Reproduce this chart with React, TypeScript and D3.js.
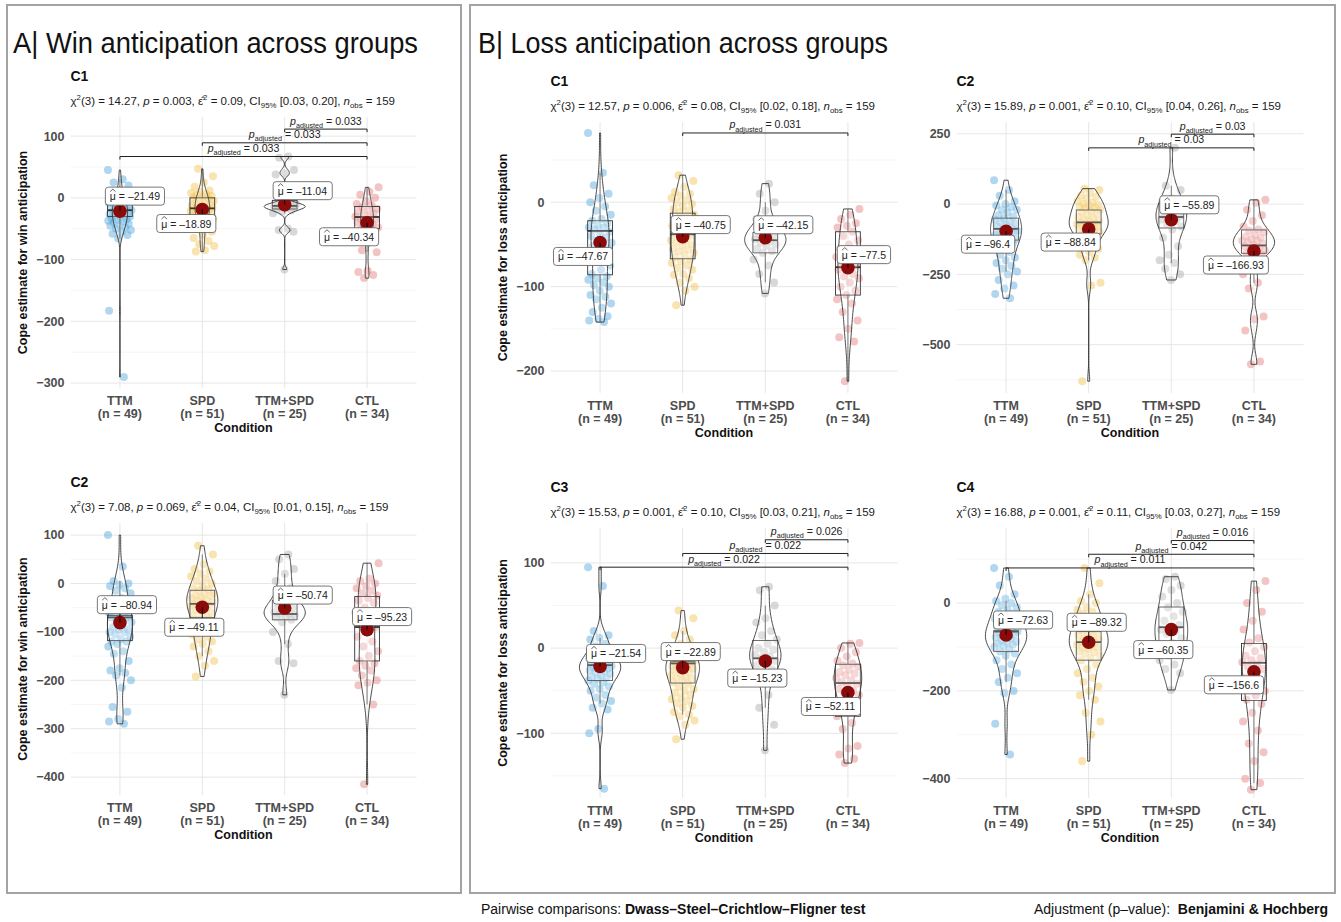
import * as React from "react";
import * as d3 from "d3";

// ---- shared categories ----
const groups = ["TTM", "SPD", "TTM+SPD", "CTL"];
const groupN = [49, 51, 25, 34];
const groupColors = ["#4fa6dc", "#f1c04c", "#a8a8a8", "#e47c7c"];

// ---- A | win anticipation, C1 ----
const winC1TTM = [45, 30, 25, 20, 12, 8, 5, 2, 0, -2, -3, -5, -6, -8, -10, -12, -14, -15, -16, -17, -18, -20, -21, -22, -24, -25, -26, -27, -28, -30, -32, -33, -35, -36, -37, -38, -40, -42, -44, -45, -48, -50, -52, -55, -58, -60, -66, -183, -290];
const winC1SPD = [47, 35, 25, 18, 12, 10, 8, 6, 5, 3, 2, 0, -1, -3, -5, -6, -8, -10, -11, -12, -14, -15, -16, -17, -18, -19, -20, -21, -22, -24, -25, -26, -28, -30, -32, -34, -36, -38, -40, -42, -45, -48, -50, -55, -60, -65, -70, -75, -78, -85, -87];
const winC1Combo = [67, 65, 45, 40, 38, -5, -8, -10, -11, -12, -12, -13, -14, -15, -15, -16, -17, -18, -20, -22, -25, -50, -52, -55, -116];
const winC1CTL = [17, 10, 5, 0, -5, -10, -12, -15, -18, -20, -22, -25, -28, -30, -32, -35, -35, -38, -40, -42, -45, -48, -50, -52, -55, -58, -60, -65, -85, -88, -118, -120, -125, -130];
const winC1Box = [[-30, -20, -3], [-38, -17, 0], [-18, -13, -4], [-50, -31, -14]];
const winC1Means = [-21.49, -18.89, -11.04, -40.34];
const winC1Stats = ["14.27", "0.003", "0.09", "0.03", "0.20"];
const winC1Pairs = [["TTM", "CTL", "0.033"], ["SPD", "CTL", "0.033"], ["TTM+SPD", "CTL", "0.033"]];

// ---- A | win anticipation, C2 ----
const winC2TTM = [100, 35, 5, 0, -2, -5, -10, -15, -20, -30, -40, -50, -55, -60, -60, -65, -68, -70, -70, -72, -75, -80, -85, -90, -95, -95, -100, -100, -105, -110, -115, -120, -120, -125, -130, -140, -145, -160, -175, -180, -185, -190, -200, -215, -255, -265, -280, -285, -290];
const winC2SPD = [78, 60, 40, 30, 25, 20, 15, 10, 5, 0, -5, -10, -12, -15, -20, -22, -25, -25, -28, -30, -35, -35, -38, -40, -42, -45, -45, -48, -50, -55, -60, -60, -65, -70, -75, -80, -85, -90, -95, -100, -105, -110, -115, -120, -125, -130, -140, -150, -160, -170, -192];
const winC2Combo = [60, 50, 30, 20, 5, -10, -20, -30, -40, -45, -50, -55, -60, -62, -63, -65, -68, -70, -75, -80, -100, -125, -160, -165, -230];
const winC2CTL = [42, 10, 5, 0, -5, -10, -15, -20, -25, -30, -35, -40, -50, -60, -70, -80, -90, -100, -110, -120, -130, -140, -150, -160, -165, -170, -175, -180, -190, -200, -205, -210, -250, -415];
const winC2Box = [[-118, -70, -66], [-70, -42, -14], [-75, -63, -35], [-160, -90, -27]];
const winC2Means = [-80.94, -49.11, -50.74, -95.23];
const winC2Stats = ["7.08", "0.069", "0.04", "0.01", "0.15"];
const winC2Pairs: string[][] = [];

// ---- B | loss anticipation, C1 ----
const lossC1TTM = [82, 35, 20, 10, 5, 0, -5, -10, -15, -20, -22, -25, -28, -30, -30, -32, -35, -38, -40, -42, -45, -48, -50, -52, -55, -58, -60, -65, -70, -75, -80, -85, -88, -90, -92, -95, -98, -100, -105, -110, -112, -115, -120, -125, -130, -135, -138, -140, -142];
const lossC1SPD = [32, 25, 18, 12, 10, 8, 5, 2, 0, -2, -5, -8, -10, -12, -15, -18, -20, -22, -25, -28, -30, -32, -35, -36, -38, -40, -42, -45, -46, -48, -50, -52, -55, -56, -58, -60, -62, -65, -68, -70, -72, -75, -78, -80, -85, -86, -90, -95, -100, -105, -122];
const lossC1Combo = [22, 10, 0, -10, -20, -25, -30, -32, -35, -38, -40, -42, -44, -46, -48, -50, -52, -55, -58, -60, -68, -75, -85, -95, -108];
const lossC1CTL = [-8, -15, -20, -25, -28, -30, -35, -40, -45, -50, -55, -60, -62, -65, -70, -72, -75, -78, -80, -85, -88, -90, -95, -100, -105, -110, -115, -120, -130, -140, -150, -160, -165, -212];
const lossC1Box = [[-86, -34, -22], [-67, -38, -13], [-60, -45, -36], [-110, -77, -35]];
const lossC1Means = [-47.67, -40.75, -42.15, -77.5];
const lossC1Stats = ["12.57", "0.006", "0.08", "0.02", "0.18"];
const lossC1Pairs = [["SPD", "CTL", "0.031"]];

// ---- B | loss anticipation, C2 ----
const lossC2TTM = [85, 50, 30, 10, 0, -5, -10, -20, -20, -30, -40, -45, -50, -55, -60, -65, -70, -75, -80, -85, -90, -95, -95, -100, -100, -105, -110, -115, -120, -125, -130, -135, -140, -150, -160, -170, -180, -190, -200, -210, -220, -230, -240, -250, -270, -290, -300, -320, -335];
const lossC2SPD = [55, 50, 40, 30, 25, 20, 10, 5, 0, -2, -5, -10, -12, -15, -20, -25, -30, -35, -40, -45, -50, -55, -60, -62, -65, -68, -70, -72, -75, -78, -80, -82, -85, -90, -95, -100, -105, -110, -115, -120, -130, -140, -150, -160, -170, -180, -190, -200, -280, -290, -630];
const lossC2Combo = [200, 65, 50, 20, 10, 0, -15, -25, -35, -40, -45, -50, -55, -60, -70, -80, -90, -120, -150, -180, -200, -210, -230, -250, -270];
const lossC2CTL = [15, 5, -20, -40, -60, -80, -90, -95, -100, -110, -115, -120, -125, -130, -130, -135, -140, -145, -150, -155, -160, -165, -170, -175, -180, -200, -250, -280, -300, -400, -410, -450, -560, -570];
const lossC2Box = [[-128, -88, -50], [-106, -65, -21], [-85, -46, 2], [-175, -147, -92]];
const lossC2Means = [-96.4, -88.84, -55.89, -166.93];
const lossC2Stats = ["15.89", "0.001", "0.10", "0.04", "0.26"];
const lossC2Pairs = [["SPD", "CTL", "0.03"], ["TTM+SPD", "CTL", "0.03"]];

// ---- B | loss anticipation, C3 ----
const lossC3TTM = [95, 73, 20, 15, 12, 10, 5, 2, 0, -2, -5, -8, -10, -12, -14, -15, -16, -17, -18, -19, -20, -21, -22, -23, -24, -25, -26, -27, -28, -30, -32, -34, -35, -36, -38, -40, -42, -45, -48, -50, -55, -58, -62, -65, -70, -72, -95, -100, -165];
const lossC3SPD = [44, 35, 20, 15, 10, 5, 2, 0, -2, -5, -8, -10, -12, -14, -15, -16, -18, -19, -20, -21, -22, -23, -24, -25, -26, -28, -30, -32, -34, -35, -36, -38, -40, -42, -45, -48, -50, -52, -55, -58, -60, -62, -65, -68, -70, -75, -78, -80, -85, -90, -107];
const lossC3Combo = [72, 68, 50, 35, 30, 20, 15, 10, 5, 0, -2, -5, -8, -10, -12, -15, -18, -20, -25, -30, -40, -55, -70, -90, -120];
const lossC3CTL = [6, 5, 0, -5, -10, -15, -18, -20, -22, -25, -28, -30, -32, -35, -38, -40, -42, -45, -48, -50, -52, -55, -60, -65, -70, -75, -80, -88, -95, -115, -118, -125, -130, -135];
const lossC3Box = [[-38, -20, -17], [-41, -18, -16], [-30, -12, 9], [-80, -41, -19]];
const lossC3Means = [-21.54, -22.89, -15.23, -52.11];
const lossC3Stats = ["15.53", "0.001", "0.10", "0.03", "0.21"];
const lossC3Pairs = [["TTM", "CTL", "0.022"], ["SPD", "CTL", "0.022"], ["TTM+SPD", "CTL", "0.026"]];

// ---- B | loss anticipation, C4 ----
const lossC4TTM = [80, 60, 40, 20, 10, 5, 0, -5, -10, -15, -20, -25, -30, -35, -40, -45, -45, -50, -55, -60, -62, -65, -68, -70, -72, -75, -78, -80, -85, -88, -90, -92, -95, -98, -100, -105, -110, -115, -120, -130, -140, -150, -160, -170, -180, -200, -205, -275, -345];
const lossC4SPD = [80, 45, 20, 5, 0, -10, -15, -20, -25, -30, -35, -40, -45, -50, -55, -60, -62, -65, -70, -72, -75, -80, -82, -85, -88, -90, -92, -95, -98, -100, -102, -105, -110, -112, -115, -120, -125, -130, -140, -150, -160, -170, -180, -190, -200, -210, -220, -250, -270, -300, -360];
const lossC4Combo = [60, 55, 40, 30, 15, 0, -10, -20, -30, -40, -50, -55, -60, -65, -70, -80, -90, -100, -110, -120, -130, -140, -150, -160, -198];
const lossC4CTL = [50, 30, 0, -20, -40, -60, -80, -90, -100, -110, -120, -125, -130, -135, -140, -145, -150, -160, -170, -180, -190, -200, -210, -220, -230, -250, -270, -290, -320, -340, -360, -400, -410, -425];
const lossC4Box = [[-110, -65, -63], [-130, -89, -65], [-105, -55, -9], [-222, -136, -92]];
const lossC4Means = [-72.63, -89.32, -60.35, -156.6];
const lossC4Stats = ["16.88", "0.001", "0.11", "0.03", "0.27"];
const lossC4Pairs = [["TTM", "CTL", "0.011"], ["SPD", "CTL", "0.042"], ["TTM+SPD", "CTL", "0.016"]];

// y-axis tick labels per subplot
const winC1Ticks = [-300, -200, -100, 0, 100];
const winC2Ticks = [-400, -300, -200, -100, 0, 100];
const lossC1Ticks = [-200, -100, 0];
const lossC2Ticks = [-500, -250, 0, 250];
const lossC3Ticks = [-100, 0, 100];
const lossC4Ticks = [-400, -200, 0];

const FONT = "'Liberation Sans', Arial, Helvetica, sans-serif";
const WIN_TITLE = "Cope estimate for win anticipation";
const LOSS_TITLE = "Cope estimate for loss anticipation";

// layout of the six subplots (pixel frames, y limits, label nudges)
const panels = [
  { tag: "C1", x0: 70.5, x1: 416.5, y0: 117, y1: 388, domain: [-308, 131], ticks: winC1Ticks, yTitle: WIN_TITLE,
    points: [winC1TTM, winC1SPD, winC1Combo, winC1CTL], boxes: winC1Box, means: winC1Means, stats: winC1Stats, pairs: winC1Pairs,
    nudges: [[15, -15], [-16, 14], [18, -14], [-18, 14]] },
  { tag: "C2", x0: 70.5, x1: 416.5, y0: 523, y1: 795, domain: [-437, 125], ticks: winC2Ticks, yTitle: WIN_TITLE,
    points: [winC2TTM, winC2SPD, winC2Combo, winC2CTL], boxes: winC2Box, means: winC2Means, stats: winC2Stats, pairs: winC2Pairs,
    nudges: [[7, -18], [-8, 20], [18, -13], [15, -13]] },
  { tag: "C1", x0: 550.5, x1: 897.5, y0: 122, y1: 393, domain: [-226, 95], ticks: lossC1Ticks, yTitle: LOSS_TITLE,
    points: [lossC1TTM, lossC1SPD, lossC1Combo, lossC1CTL], boxes: lossC1Box, means: lossC1Means, stats: lossC1Stats, pairs: lossC1Pairs,
    nudges: [[-17, 14], [18, -12], [18, -13], [16, -13]] },
  { tag: "C2", x0: 956.5, x1: 1303.5, y0: 122, y1: 393, domain: [-672, 292], ticks: lossC2Ticks, yTitle: "",
    points: [lossC2TTM, lossC2SPD, lossC2Combo, lossC2CTL], boxes: lossC2Box, means: lossC2Means, stats: lossC2Stats, pairs: lossC2Pairs,
    nudges: [[-18, 13], [-18, 13], [18, -15], [-18, 14]] },
  { tag: "C3", x0: 550.5, x1: 897.5, y0: 528, y1: 798, domain: [-176, 141], ticks: lossC3Ticks, yTitle: LOSS_TITLE,
    points: [lossC3TTM, lossC3SPD, lossC3Combo, lossC3CTL], boxes: lossC3Box, means: lossC3Means, stats: lossC3Stats, pairs: lossC3Pairs,
    nudges: [[16, -13], [8, -16], [-8, 17], [-17, 14]] },
  { tag: "C4", x0: 956.5, x1: 1303.5, y0: 528, y1: 798, domain: [-444, 171], ticks: lossC4Ticks, yTitle: "",
    points: [lossC4TTM, lossC4SPD, lossC4Combo, lossC4CTL], boxes: lossC4Box, means: lossC4Means, stats: lossC4Stats, pairs: lossC4Pairs,
    nudges: [[17, -15], [8, -20], [-8, 20], [-20, 13]] },
];

type Seg = { t: string; k?: "sup" | "sub" | "it" };

// text with super/subscripts done by dy shifts
function Rich({ x, y, segs, size, anchor = "start", fill = "#1a1a1a" }: any) {
  let shift = 0;
  const spans = segs.map((s: Seg, i: number) => {
    const small = s.k === "sup" || s.k === "sub";
    const target = s.k === "sup" ? -size * 0.42 : s.k === "sub" ? size * 0.3 : 0;
    const dy = target - shift;
    shift = target;
    return (
      <tspan key={i} dy={dy} fontSize={small ? size * 0.68 : size} fontStyle={s.k === "it" ? "italic" : "normal"}>
        {s.t}
      </tspan>
    );
  });
  return (
    <text x={x} y={y} fontSize={size} textAnchor={anchor} fill={fill} style={{ whiteSpace: "pre" }}>
      {spans}
    </text>
  );
}

const statSegs = (s: string[]): Seg[] => [
  { t: "χ" }, { t: "2", k: "sup" }, { t: `(3) = ${s[0]}, ` }, { t: "p", k: "it" }, { t: ` = ${s[1]}, ` },
  { t: "ε\u0302" }, { t: "2", k: "sup" }, { t: ` = ${s[2]}, CI` }, { t: "95%", k: "sub" },
  { t: ` [${s[3]}, ${s[4]}], ` }, { t: "n", k: "it" }, { t: "obs", k: "sub" }, { t: " = 159" },
];

const fmtTick = (d: number) => (d < 0 ? "\u2212" + Math.abs(d) : String(d));

// gaussian kernel density, nrd0 bandwidth, trimmed to data range
function kde(values: number[]) {
  const s = values.slice().sort(d3.ascending);
  const n = s.length;
  const sd = d3.deviation(s) || 1;
  const iqr = (d3.quantile(s, 0.75) as number) - (d3.quantile(s, 0.25) as number);
  const bw = 0.9 * Math.min(sd, iqr > 0 ? iqr / 1.34 : sd) * Math.pow(n, -0.2);
  const lo = s[0], hi = s[n - 1];
  return d3.range(0, 121).map((i) => {
    const v = lo + ((hi - lo) * i) / 120;
    const dens = d3.sum(s, (d) => Math.exp(-0.5 * ((v - d) / bw) ** 2)) / (n * bw * Math.sqrt(2 * Math.PI));
    return [v, dens] as [number, number];
  });
}

const jit = (i: number) => (((i * 0.6180339887) % 1) * 2 - 1) * 12;

const charW: any = { ".": 0.278, " ": 0.278, "=": 0.584, "\u2013": 0.556, "μ": 0.576 };
const textWidth = (t: string, size: number) => t.split("").reduce((a, c) => a + (charW[c] ?? 0.556), 0) * size;

function Panel({ cfg }: { cfg: any }) {
  const { tag, x0, x1, y0, y1, domain, ticks, yTitle, points, boxes, means, stats, pairs, nudges } = cfg;
  const x = d3.scalePoint<string>().domain(groups).range([x0, x1]).padding(0.6);
  const step = x.step();
  const y = d3.scaleLinear().domain(domain).range([y1, y0]);
  const dens = points.map(kde);
  const maxD = d3.max(dens, (d: any) => d3.max(d, (p: any) => p[1])) as number;
  const half = step * 0.25;
  const tStep = ticks[1] - ticks[0];
  const minor = d3.range(ticks[0] - tStep / 2, domain[1], tStep).filter((v) => v > domain[0] && v < domain[1]);
  const maxAll = d3.max(points, (p: number[]) => d3.max(p)) as number;

  return (
    <g fontFamily={FONT}>
      {/* grid */}
      {minor.map((v) => (
        <line key={"mn" + v} x1={x0} x2={x1} y1={y(v)} y2={y(v)} stroke="#f0f0f0" strokeWidth={0.6} />
      ))}
      {ticks.map((v: number) => (
        <line key={"mj" + v} x1={x0} x2={x1} y1={y(v)} y2={y(v)} stroke="#e6e6e6" strokeWidth={1} />
      ))}
      {groups.map((g) => (
        <line key={"vg" + g} x1={x(g)} x2={x(g)} y1={y0} y2={y1} stroke="#e6e6e6" strokeWidth={1} />
      ))}

      {/* jittered points */}
      {groups.map((g, gi) =>
        points[gi].map((v: number, i: number) => (
          <circle key={g + i} cx={(x(g) as number) + jit(i + gi * 7)} cy={y(v)} r={4} fill={groupColors[gi]} fillOpacity={0.45} />
        ))
      )}

      {/* boxes */}
      {groups.map((g, gi) => {
        const cx = x(g) as number;
        const [q1, med, q3] = boxes[gi];
        const iqr = q3 - q1;
        const inside = points[gi].filter((v: number) => v >= q1 - 1.5 * iqr && v <= q3 + 1.5 * iqr);
        const lo = Math.min(q1, d3.min(inside) as number);
        const hi = Math.max(q3, d3.max(inside) as number);
        const bw = step * 0.3;
        return (
          <g key={"bx" + g} stroke="#333">
            <line x1={cx} x2={cx} y1={y(q3)} y2={y(hi)} strokeWidth={0.8} />
            <line x1={cx} x2={cx} y1={y(q1)} y2={y(lo)} strokeWidth={0.8} />
            <rect x={cx - bw / 2} y={y(q3)} width={bw} height={y(q1) - y(q3)} strokeWidth={0.9} fill="#fff" fillOpacity={0.2} />
            <line x1={cx - bw / 2} x2={cx + bw / 2} y1={y(med)} y2={y(med)} strokeWidth={1.8} />
          </g>
        );
      })}

      {/* violins */}
      {groups.map((g, gi) => {
        const cx = x(g) as number;
        const area = d3
          .area<[number, number]>()
          .y((d) => y(d[0]))
          .x0((d) => cx - (d[1] / maxD) * half)
          .x1((d) => cx + (d[1] / maxD) * half);
        return <path key={"vn" + g} d={area(dens[gi]) as string} fill="#fff" fillOpacity={0.2} stroke="#333" strokeWidth={0.9} />;
      })}

      {/* means + labels */}
      {groups.map((g, gi) => {
        const mx = x(g) as number;
        const my = y(means[gi]);
        const txt = "μ = \u2013" + String(Math.abs(means[gi]));
        const w = textWidth(txt, 10.5) + 9;
        const h = 18;
        const lx = mx + nudges[gi][0];
        const ly = my + nudges[gi][1];
        const rx = lx - w / 2, ry = ly - h / 2;
        const px = Math.max(rx, Math.min(rx + w, mx));
        const py = Math.max(ry, Math.min(ry + h, my));
        const tx = rx + 4.5, ty = ly + 4;
        return (
          <g key={"mn" + g}>
            <circle cx={mx} cy={my} r={6.8} fill="#8b0a0a" />
            <line x1={mx} y1={my} x2={px} y2={py} stroke="#000" strokeWidth={0.9} />
            <rect x={rx} y={ry} width={w} height={h} rx={3} fill="#fff" stroke="#555" strokeWidth={0.8} />
            <path d={`M${tx + 0.3},${ty - 8.5}L${tx + 3},${ty - 11}L${tx + 5.7},${ty - 8.5}`} fill="none" stroke="#222" strokeWidth={0.7} />
            <text x={tx} y={ty} fontSize={10.5} fill="#222" style={{ whiteSpace: "pre" }}>{txt}</text>
          </g>
        );
      })}

      {/* pairwise brackets */}
      {pairs.map((p: string[], i: number) => {
        const xa = x(p[0]) as number, xb = x(p[1]) as number;
        const yb = y(maxAll) - i * 13.7;
        return (
          <g key={"pr" + i}>
            <path d={`M${xa},${yb + 3}V${yb}H${xb}V${yb + 3}`} fill="none" stroke="#222" strokeWidth={1} />
            <Rich x={(xa + xb) / 2} y={yb - 4.5} size={10.6} anchor="middle" fill="#222"
              segs={[{ t: "p", k: "it" }, { t: "adjusted", k: "sub" }, { t: " = " + p[2] }]} />
          </g>
        );
      })}

      {/* axes text */}
      {ticks.map((v: number) => (
        <text key={"yt" + v} x={x0 - 6} y={y(v)} dy="0.35em" textAnchor="end" fontSize={12.5} fontWeight="bold" fill="#4d4d4d">
          {fmtTick(v)}
        </text>
      ))}
      {groups.map((g, gi) => (
        <g key={"xl" + g} fontSize={12.5} fontWeight="bold" fill="#4d4d4d" textAnchor="middle">
          <text x={x(g)} y={y1 + 17}>{g}</text>
          <text x={x(g)} y={y1 + 30}>{`(n = ${groupN[gi]})`}</text>
        </g>
      ))}
      <text x={(x0 + x1) / 2} y={y1 + 44} textAnchor="middle" fontSize={12.5} fontWeight="bold" fill="#111">Condition</text>
      {yTitle && (
        <text transform={`translate(${x0 - 44},${(y0 + y1) / 2}) rotate(-90)`} textAnchor="middle" fontSize={12.5} fontWeight="bold" fill="#111">
          {yTitle}
        </text>
      )}

      {/* titles */}
      <text x={x0} y={y0 - 36} fontSize={14} fontWeight="bold" fill="#111">{tag}</text>
      <Rich x={x0} y={y0 - 12} size={11.5} segs={statSegs(stats)} />
    </g>
  );
}

export default function App() {
  return (
    <svg width={1341} height={922} style={{ position: "absolute", left: 0, top: 0, background: "#fff" }}>
      <rect x={0} y={0} width={1341} height={922} fill="#fff" />
      <rect x={7} y={5} width={454} height={888} fill="none" stroke="#a3a3a3" strokeWidth={2} />
      <rect x={470} y={5} width={865} height={888} fill="none" stroke="#a3a3a3" strokeWidth={2} />
      <text x={13} y={53} fontFamily={FONT} fontSize={29} fill="#111" textLength={405} lengthAdjust="spacingAndGlyphs">
        A| Win anticipation across groups
      </text>
      <text x={478} y={53} fontFamily={FONT} fontSize={29} fill="#111" textLength={410} lengthAdjust="spacingAndGlyphs">
        B| Loss anticipation across groups
      </text>
      {panels.map((p, i) => (
        <Panel key={i} cfg={p} />
      ))}
      <text x={481} y={914} fontFamily={FONT} fontSize={14} fill="#111" style={{ whiteSpace: "pre" }}>
        <tspan>Pairwise comparisons: </tspan>
        <tspan fontWeight="bold">Dwass–Steel–Crichtlow–Fligner test</tspan>
      </text>
      <text x={1328} y={914} textAnchor="end" fontFamily={FONT} fontSize={14} fill="#111" style={{ whiteSpace: "pre" }}>
        <tspan>Adjustment (p–value):  </tspan>
        <tspan fontWeight="bold">Benjamini &amp; Hochberg</tspan>
      </text>
    </svg>
  );
}
